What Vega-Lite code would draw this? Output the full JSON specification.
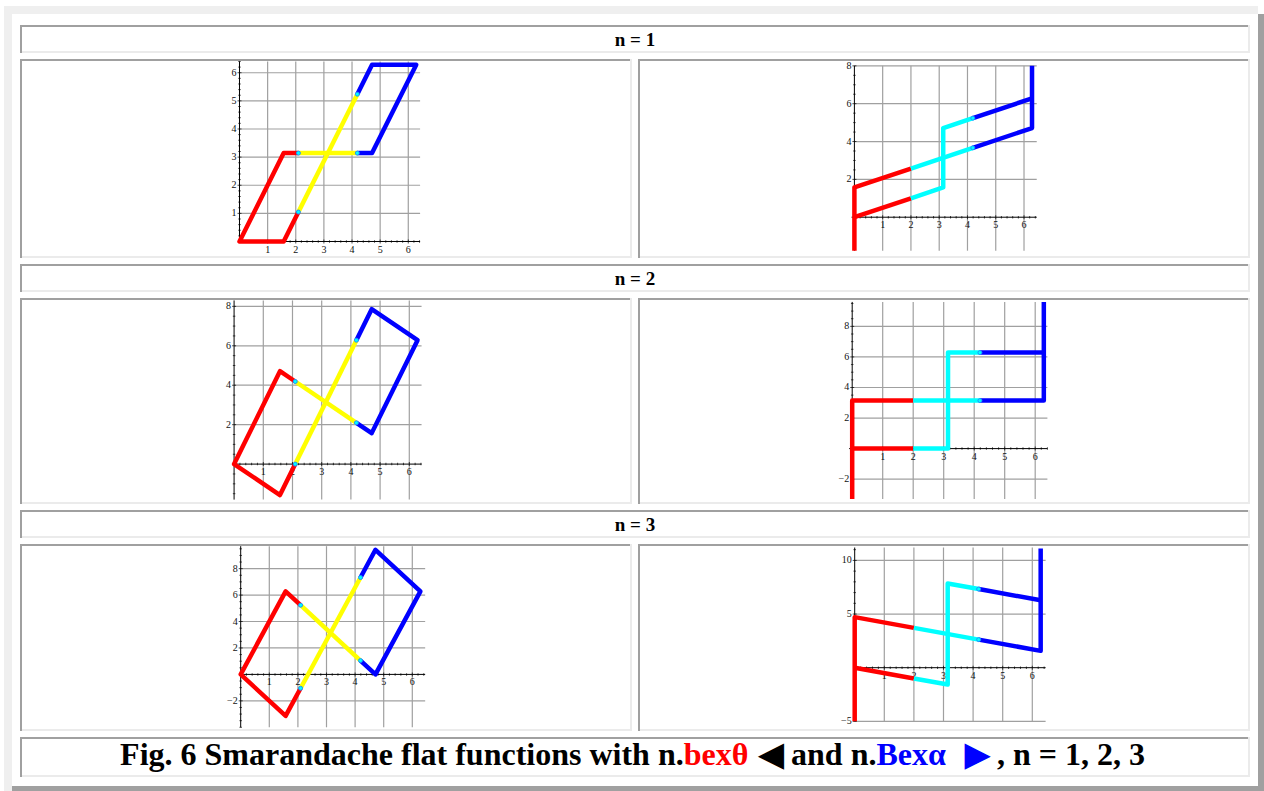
{
  "$schema": "https://vega.github.io/schema/vega-lite/v6.json",
  "background": "white",
  "padding": {"left": 4, "top": 6, "right": 0, "bottom": 0},
  "config": {
    "font": "Liberation Serif",
    "view": {"stroke": null},
    "axis": {"labels": false, "ticks": false, "grid": false, "domainColor": "#a0a0a0", "domainWidth": 2, "domainCap": "butt", "translate": 0, "offset": -1}
  },
  "datasets": {
    "xticks": [
      {"x": 1, "y": 0, "k": "M"}, {"x": 2, "y": 0, "k": "M"}, {"x": 3, "y": 0, "k": "M"}, {"x": 4, "y": 0, "k": "M"}, {"x": 5, "y": 0, "k": "M"}, {"x": 6, "y": 0, "k": "M"},
      {"x": 0.2, "y": 0, "k": "m"}, {"x": 0.4, "y": 0, "k": "m"}, {"x": 0.6, "y": 0, "k": "m"}, {"x": 0.8, "y": 0, "k": "m"},
      {"x": 1.2, "y": 0, "k": "m"}, {"x": 1.4, "y": 0, "k": "m"}, {"x": 1.6, "y": 0, "k": "m"}, {"x": 1.8, "y": 0, "k": "m"},
      {"x": 2.2, "y": 0, "k": "m"}, {"x": 2.4, "y": 0, "k": "m"}, {"x": 2.6, "y": 0, "k": "m"}, {"x": 2.8, "y": 0, "k": "m"},
      {"x": 3.2, "y": 0, "k": "m"}, {"x": 3.4, "y": 0, "k": "m"}, {"x": 3.6, "y": 0, "k": "m"}, {"x": 3.8, "y": 0, "k": "m"},
      {"x": 4.2, "y": 0, "k": "m"}, {"x": 4.4, "y": 0, "k": "m"}, {"x": 4.6, "y": 0, "k": "m"}, {"x": 4.8, "y": 0, "k": "m"},
      {"x": 5.2, "y": 0, "k": "m"}, {"x": 5.4, "y": 0, "k": "m"}, {"x": 5.6, "y": 0, "k": "m"}, {"x": 5.8, "y": 0, "k": "m"},
      {"x": 6.2, "y": 0, "k": "m"}, {"x": 6.4, "y": 0, "k": "m"}
    ],
    "xlabels": [
      {"x": 1, "y": 0, "t": "1"}, {"x": 2, "y": 0, "t": "2"}, {"x": 3, "y": 0, "t": "3"},
      {"x": 4, "y": 0, "t": "4"}, {"x": 5, "y": 0, "t": "5"}, {"x": 6, "y": 0, "t": "6"}
    ],
    "yticks": [
      {"p": "A", "x": 0, "y": 1, "k": "M"}, {"p": "A", "x": 0, "y": 2, "k": "M"}, {"p": "A", "x": 0, "y": 3, "k": "M"}, {"p": "A", "x": 0, "y": 4, "k": "M"}, {"p": "A", "x": 0, "y": 5, "k": "M"}, {"p": "A", "x": 0, "y": 6, "k": "M"},
      {"p": "A", "x": 0, "y": 0.2, "k": "m"}, {"p": "A", "x": 0, "y": 0.4, "k": "m"}, {"p": "A", "x": 0, "y": 0.6, "k": "m"}, {"p": "A", "x": 0, "y": 0.8, "k": "m"},
      {"p": "A", "x": 0, "y": 1.2, "k": "m"}, {"p": "A", "x": 0, "y": 1.4, "k": "m"}, {"p": "A", "x": 0, "y": 1.6, "k": "m"}, {"p": "A", "x": 0, "y": 1.8, "k": "m"},
      {"p": "A", "x": 0, "y": 2.2, "k": "m"}, {"p": "A", "x": 0, "y": 2.4, "k": "m"}, {"p": "A", "x": 0, "y": 2.6, "k": "m"}, {"p": "A", "x": 0, "y": 2.8, "k": "m"},
      {"p": "A", "x": 0, "y": 3.2, "k": "m"}, {"p": "A", "x": 0, "y": 3.4, "k": "m"}, {"p": "A", "x": 0, "y": 3.6, "k": "m"}, {"p": "A", "x": 0, "y": 3.8, "k": "m"},
      {"p": "A", "x": 0, "y": 4.2, "k": "m"}, {"p": "A", "x": 0, "y": 4.4, "k": "m"}, {"p": "A", "x": 0, "y": 4.6, "k": "m"}, {"p": "A", "x": 0, "y": 4.8, "k": "m"},
      {"p": "A", "x": 0, "y": 5.2, "k": "m"}, {"p": "A", "x": 0, "y": 5.4, "k": "m"}, {"p": "A", "x": 0, "y": 5.6, "k": "m"}, {"p": "A", "x": 0, "y": 5.8, "k": "m"},
      {"p": "A", "x": 0, "y": 6.2, "k": "m"}, {"p": "A", "x": 0, "y": 6.4, "k": "m"},

      {"p": "B", "x": 0, "y": 2, "k": "M"}, {"p": "B", "x": 0, "y": 4, "k": "M"}, {"p": "B", "x": 0, "y": 6, "k": "M"}, {"p": "B", "x": 0, "y": 8, "k": "M"},
      {"p": "B", "x": 0, "y": -1.5, "k": "m"}, {"p": "B", "x": 0, "y": -1, "k": "m"}, {"p": "B", "x": 0, "y": -0.5, "k": "m"}, {"p": "B", "x": 0, "y": 0.5, "k": "m"},
      {"p": "B", "x": 0, "y": 1, "k": "m"}, {"p": "B", "x": 0, "y": 1.5, "k": "m"}, {"p": "B", "x": 0, "y": 2.5, "k": "m"}, {"p": "B", "x": 0, "y": 3, "k": "m"},
      {"p": "B", "x": 0, "y": 3.5, "k": "m"}, {"p": "B", "x": 0, "y": 4.5, "k": "m"}, {"p": "B", "x": 0, "y": 5, "k": "m"}, {"p": "B", "x": 0, "y": 5.5, "k": "m"},
      {"p": "B", "x": 0, "y": 6.5, "k": "m"}, {"p": "B", "x": 0, "y": 7, "k": "m"}, {"p": "B", "x": 0, "y": 7.5, "k": "m"},

      {"p": "C", "x": 0, "y": 2, "k": "M"}, {"p": "C", "x": 0, "y": 4, "k": "M"}, {"p": "C", "x": 0, "y": 6, "k": "M"}, {"p": "C", "x": 0, "y": 8, "k": "M"},
      {"p": "C", "x": 0, "y": -1.5, "k": "m"}, {"p": "C", "x": 0, "y": -1, "k": "m"}, {"p": "C", "x": 0, "y": -0.5, "k": "m"}, {"p": "C", "x": 0, "y": 0.5, "k": "m"},
      {"p": "C", "x": 0, "y": 1, "k": "m"}, {"p": "C", "x": 0, "y": 1.5, "k": "m"}, {"p": "C", "x": 0, "y": 2.5, "k": "m"}, {"p": "C", "x": 0, "y": 3, "k": "m"},
      {"p": "C", "x": 0, "y": 3.5, "k": "m"}, {"p": "C", "x": 0, "y": 4.5, "k": "m"}, {"p": "C", "x": 0, "y": 5, "k": "m"}, {"p": "C", "x": 0, "y": 5.5, "k": "m"},
      {"p": "C", "x": 0, "y": 6.5, "k": "m"}, {"p": "C", "x": 0, "y": 7, "k": "m"}, {"p": "C", "x": 0, "y": 7.5, "k": "m"},

      {"p": "D", "x": 0, "y": -2, "k": "M"}, {"p": "D", "x": 0, "y": 2, "k": "M"}, {"p": "D", "x": 0, "y": 4, "k": "M"}, {"p": "D", "x": 0, "y": 6, "k": "M"}, {"p": "D", "x": 0, "y": 8, "k": "M"},
      {"p": "D", "x": 0, "y": -3, "k": "m"}, {"p": "D", "x": 0, "y": -2.5, "k": "m"}, {"p": "D", "x": 0, "y": -1.5, "k": "m"}, {"p": "D", "x": 0, "y": -1, "k": "m"},
      {"p": "D", "x": 0, "y": -0.5, "k": "m"}, {"p": "D", "x": 0, "y": 0.5, "k": "m"}, {"p": "D", "x": 0, "y": 1, "k": "m"}, {"p": "D", "x": 0, "y": 1.5, "k": "m"},
      {"p": "D", "x": 0, "y": 2.5, "k": "m"}, {"p": "D", "x": 0, "y": 3, "k": "m"}, {"p": "D", "x": 0, "y": 3.5, "k": "m"}, {"p": "D", "x": 0, "y": 4.5, "k": "m"},
      {"p": "D", "x": 0, "y": 5, "k": "m"}, {"p": "D", "x": 0, "y": 5.5, "k": "m"}, {"p": "D", "x": 0, "y": 6.5, "k": "m"}, {"p": "D", "x": 0, "y": 7, "k": "m"},
      {"p": "D", "x": 0, "y": 7.5, "k": "m"}, {"p": "D", "x": 0, "y": 8.5, "k": "m"}, {"p": "D", "x": 0, "y": 9, "k": "m"}, {"p": "D", "x": 0, "y": 9.5, "k": "m"},

      {"p": "E", "x": 0, "y": -2, "k": "M"}, {"p": "E", "x": 0, "y": 2, "k": "M"}, {"p": "E", "x": 0, "y": 4, "k": "M"}, {"p": "E", "x": 0, "y": 6, "k": "M"}, {"p": "E", "x": 0, "y": 8, "k": "M"},
      {"p": "E", "x": 0, "y": -4, "k": "m"}, {"p": "E", "x": 0, "y": -3.5, "k": "m"}, {"p": "E", "x": 0, "y": -3, "k": "m"}, {"p": "E", "x": 0, "y": -2.5, "k": "m"},
      {"p": "E", "x": 0, "y": -1.5, "k": "m"}, {"p": "E", "x": 0, "y": -1, "k": "m"}, {"p": "E", "x": 0, "y": -0.5, "k": "m"}, {"p": "E", "x": 0, "y": 0.5, "k": "m"},
      {"p": "E", "x": 0, "y": 1, "k": "m"}, {"p": "E", "x": 0, "y": 1.5, "k": "m"}, {"p": "E", "x": 0, "y": 2.5, "k": "m"}, {"p": "E", "x": 0, "y": 3, "k": "m"},
      {"p": "E", "x": 0, "y": 3.5, "k": "m"}, {"p": "E", "x": 0, "y": 4.5, "k": "m"}, {"p": "E", "x": 0, "y": 5, "k": "m"}, {"p": "E", "x": 0, "y": 5.5, "k": "m"},
      {"p": "E", "x": 0, "y": 6.5, "k": "m"}, {"p": "E", "x": 0, "y": 7, "k": "m"}, {"p": "E", "x": 0, "y": 7.5, "k": "m"}, {"p": "E", "x": 0, "y": 8.5, "k": "m"},
      {"p": "E", "x": 0, "y": 9, "k": "m"}, {"p": "E", "x": 0, "y": 9.5, "k": "m"},

      {"p": "F", "x": 0, "y": -5, "k": "M"}, {"p": "F", "x": 0, "y": 5, "k": "M"}, {"p": "F", "x": 0, "y": 10, "k": "M"},
      {"p": "F", "x": 0, "y": -4, "k": "m"}, {"p": "F", "x": 0, "y": -3, "k": "m"}, {"p": "F", "x": 0, "y": -2, "k": "m"}, {"p": "F", "x": 0, "y": -1, "k": "m"},
      {"p": "F", "x": 0, "y": 1, "k": "m"}, {"p": "F", "x": 0, "y": 2, "k": "m"}, {"p": "F", "x": 0, "y": 3, "k": "m"}, {"p": "F", "x": 0, "y": 4, "k": "m"},
      {"p": "F", "x": 0, "y": 6, "k": "m"}, {"p": "F", "x": 0, "y": 7, "k": "m"}, {"p": "F", "x": 0, "y": 8, "k": "m"}, {"p": "F", "x": 0, "y": 9, "k": "m"},
      {"p": "F", "x": 0, "y": 11, "k": "m"}
    ],
    "ylabels": [
      {"p": "A", "x": 0, "y": 1, "t": "1"}, {"p": "A", "x": 0, "y": 2, "t": "2"}, {"p": "A", "x": 0, "y": 3, "t": "3"},
      {"p": "A", "x": 0, "y": 4, "t": "4"}, {"p": "A", "x": 0, "y": 5, "t": "5"}, {"p": "A", "x": 0, "y": 6, "t": "6"},
      {"p": "B", "x": 0, "y": 2, "t": "2"}, {"p": "B", "x": 0, "y": 4, "t": "4"}, {"p": "B", "x": 0, "y": 6, "t": "6"}, {"p": "B", "x": 0, "y": 8, "t": "8"},
      {"p": "C", "x": 0, "y": 2, "t": "2"}, {"p": "C", "x": 0, "y": 4, "t": "4"}, {"p": "C", "x": 0, "y": 6, "t": "6"}, {"p": "C", "x": 0, "y": 8, "t": "8"},
      {"p": "D", "x": 0, "y": -2, "t": "−2"}, {"p": "D", "x": 0, "y": 2, "t": "2"}, {"p": "D", "x": 0, "y": 4, "t": "4"}, {"p": "D", "x": 0, "y": 6, "t": "6"}, {"p": "D", "x": 0, "y": 8, "t": "8"},
      {"p": "E", "x": 0, "y": -2, "t": "−2"}, {"p": "E", "x": 0, "y": 2, "t": "2"}, {"p": "E", "x": 0, "y": 4, "t": "4"}, {"p": "E", "x": 0, "y": 6, "t": "6"}, {"p": "E", "x": 0, "y": 8, "t": "8"},
      {"p": "F", "x": 0, "y": -5, "t": "−5"}, {"p": "F", "x": 0, "y": 5, "t": "5"}, {"p": "F", "x": 0, "y": 10, "t": "10"}
    ],
    "grid": [
      {"p": "A", "x": 1, "y": 0, "x2": 1, "y2": 6.4}, {"p": "A", "x": 2, "y": 0, "x2": 2, "y2": 6.4}, {"p": "A", "x": 3, "y": 0, "x2": 3, "y2": 6.4},
      {"p": "A", "x": 4, "y": 0, "x2": 4, "y2": 6.4}, {"p": "A", "x": 5, "y": 0, "x2": 5, "y2": 6.4}, {"p": "A", "x": 6, "y": 0, "x2": 6, "y2": 6.4},
      {"p": "A", "x": 0, "y": 1, "x2": 6.42, "y2": 1}, {"p": "A", "x": 0, "y": 2, "x2": 6.42, "y2": 2}, {"p": "A", "x": 0, "y": 3, "x2": 6.42, "y2": 3},
      {"p": "A", "x": 0, "y": 4, "x2": 6.42, "y2": 4}, {"p": "A", "x": 0, "y": 5, "x2": 6.42, "y2": 5}, {"p": "A", "x": 0, "y": 6, "x2": 6.42, "y2": 6},

      {"p": "B", "x": 1, "y": -1.77, "x2": 1, "y2": 8}, {"p": "B", "x": 2, "y": -1.77, "x2": 2, "y2": 8}, {"p": "B", "x": 3, "y": -1.77, "x2": 3, "y2": 8},
      {"p": "B", "x": 4, "y": -1.77, "x2": 4, "y2": 8}, {"p": "B", "x": 5, "y": -1.77, "x2": 5, "y2": 8}, {"p": "B", "x": 6, "y": -1.77, "x2": 6, "y2": 8},
      {"p": "B", "x": 0, "y": 2, "x2": 6.45, "y2": 2}, {"p": "B", "x": 0, "y": 4, "x2": 6.45, "y2": 4}, {"p": "B", "x": 0, "y": 6, "x2": 6.45, "y2": 6}, {"p": "B", "x": 0, "y": 8, "x2": 6.45, "y2": 8},

      {"p": "C", "x": 1, "y": -1.8, "x2": 1, "y2": 8.3}, {"p": "C", "x": 2, "y": -1.8, "x2": 2, "y2": 8.3}, {"p": "C", "x": 3, "y": -1.8, "x2": 3, "y2": 8.3},
      {"p": "C", "x": 4, "y": -1.8, "x2": 4, "y2": 8.3}, {"p": "C", "x": 5, "y": -1.8, "x2": 5, "y2": 8.3}, {"p": "C", "x": 6, "y": -1.8, "x2": 6, "y2": 8.3},
      {"p": "C", "x": 0, "y": 2, "x2": 6.42, "y2": 2}, {"p": "C", "x": 0, "y": 4, "x2": 6.42, "y2": 4}, {"p": "C", "x": 0, "y": 6, "x2": 6.42, "y2": 6}, {"p": "C", "x": 0, "y": 8, "x2": 6.42, "y2": 8},

      {"p": "D", "x": 1, "y": -3.3, "x2": 1, "y2": 9.6}, {"p": "D", "x": 2, "y": -3.3, "x2": 2, "y2": 9.6}, {"p": "D", "x": 3, "y": -3.3, "x2": 3, "y2": 9.6},
      {"p": "D", "x": 4, "y": -3.3, "x2": 4, "y2": 9.6}, {"p": "D", "x": 5, "y": -3.3, "x2": 5, "y2": 9.6}, {"p": "D", "x": 6, "y": -3.3, "x2": 6, "y2": 9.6},
      {"p": "D", "x": 0, "y": -2, "x2": 6.4, "y2": -2}, {"p": "D", "x": 0, "y": 2, "x2": 6.4, "y2": 2}, {"p": "D", "x": 0, "y": 4, "x2": 6.4, "y2": 4},
      {"p": "D", "x": 0, "y": 6, "x2": 6.4, "y2": 6}, {"p": "D", "x": 0, "y": 8, "x2": 6.4, "y2": 8},

      {"p": "E", "x": 1, "y": -4, "x2": 1, "y2": 9.7}, {"p": "E", "x": 2, "y": -4, "x2": 2, "y2": 9.7}, {"p": "E", "x": 3, "y": -4, "x2": 3, "y2": 9.7},
      {"p": "E", "x": 4, "y": -4, "x2": 4, "y2": 9.7}, {"p": "E", "x": 5, "y": -4, "x2": 5, "y2": 9.7}, {"p": "E", "x": 6, "y": -4, "x2": 6, "y2": 9.7},
      {"p": "E", "x": 0, "y": -2, "x2": 6.45, "y2": -2}, {"p": "E", "x": 0, "y": 2, "x2": 6.45, "y2": 2}, {"p": "E", "x": 0, "y": 4, "x2": 6.45, "y2": 4},
      {"p": "E", "x": 0, "y": 6, "x2": 6.45, "y2": 6}, {"p": "E", "x": 0, "y": 8, "x2": 6.45, "y2": 8},

      {"p": "F", "x": 1, "y": -5, "x2": 1, "y2": 11.2}, {"p": "F", "x": 2, "y": -5, "x2": 2, "y2": 11.2}, {"p": "F", "x": 3, "y": -5, "x2": 3, "y2": 11.2},
      {"p": "F", "x": 4, "y": -5, "x2": 4, "y2": 11.2}, {"p": "F", "x": 5, "y": -5, "x2": 5, "y2": 11.2}, {"p": "F", "x": 6, "y": -5, "x2": 6, "y2": 11.2},
      {"p": "F", "x": 0, "y": -5, "x2": 6.45, "y2": -5}, {"p": "F", "x": 0, "y": 5, "x2": 6.45, "y2": 5}, {"p": "F", "x": 0, "y": 10, "x2": 6.45, "y2": 10}
    ],
    "axes": [
      {"p": "A", "x": -0.05, "y": 0, "x2": 6.42, "y2": 0}, {"p": "A", "x": 0, "y": -0.05, "x2": 0, "y2": 6.4},
      {"p": "B", "x": -0.1, "y": 0, "x2": 6.45, "y2": 0}, {"p": "B", "x": 0, "y": -1.77, "x2": 0, "y2": 8},
      {"p": "C", "x": -0.05, "y": 0, "x2": 6.42, "y2": 0}, {"p": "C", "x": 0, "y": -1.8, "x2": 0, "y2": 8.3},
      {"p": "D", "x": -0.1, "y": 0, "x2": 6.4, "y2": 0}, {"p": "D", "x": 0, "y": -3.3, "x2": 0, "y2": 9.6},
      {"p": "E", "x": -0.05, "y": 0, "x2": 6.45, "y2": 0}, {"p": "E", "x": 0, "y": -4, "x2": 0, "y2": 9.7},
      {"p": "F", "x": -0.05, "y": 0, "x2": 6.45, "y2": 0}, {"p": "F", "x": 0, "y": -5, "x2": 0, "y2": 11.2}
    ],
    "paths": [
      {"p": "A", "s": "A1", "c": "red", "o": 0, "x": 2.094, "y": 3.142},
      {"p": "A", "s": "A1", "c": "red", "o": 1, "x": 1.571, "y": 3.142},
      {"p": "A", "s": "A1", "c": "red", "o": 2, "x": 0, "y": 0},
      {"p": "A", "s": "A1", "c": "red", "o": 3, "x": 1.571, "y": 0},
      {"p": "A", "s": "A1", "c": "red", "o": 4, "x": 2.094, "y": 1.047},
      {"p": "A", "s": "A2", "c": "yellow", "o": 0, "x": 2.094, "y": 3.142},
      {"p": "A", "s": "A2", "c": "yellow", "o": 1, "x": 4.189, "y": 3.142},
      {"p": "A", "s": "A3", "c": "yellow", "o": 0, "x": 2.094, "y": 1.047},
      {"p": "A", "s": "A3", "c": "yellow", "o": 1, "x": 4.189, "y": 5.236},
      {"p": "A", "s": "A4", "c": "blue", "o": 0, "x": 4.189, "y": 3.142},
      {"p": "A", "s": "A4", "c": "blue", "o": 1, "x": 4.712, "y": 3.142},
      {"p": "A", "s": "A4", "c": "blue", "o": 2, "x": 6.283, "y": 6.283},
      {"p": "A", "s": "A4", "c": "blue", "o": 3, "x": 4.712, "y": 6.283},
      {"p": "A", "s": "A4", "c": "blue", "o": 4, "x": 4.189, "y": 5.236},

      {"p": "B", "s": "B1", "c": "red", "o": 0, "x": 0, "y": -1.77},
      {"p": "B", "s": "B1", "c": "red", "o": 1, "x": 0, "y": 1.571},
      {"p": "B", "s": "B1", "c": "red", "o": 2, "x": 2, "y": 2.571},
      {"p": "B", "s": "B2", "c": "red", "o": 0, "x": 0, "y": 0},
      {"p": "B", "s": "B2", "c": "red", "o": 1, "x": 2, "y": 1},
      {"p": "B", "s": "B3", "c": "cyan", "o": 0, "x": 2, "y": 2.571},
      {"p": "B", "s": "B3", "c": "cyan", "o": 1, "x": 4.189, "y": 3.665},
      {"p": "B", "s": "B4", "c": "cyan", "o": 0, "x": 2, "y": 1},
      {"p": "B", "s": "B4", "c": "cyan", "o": 1, "x": 3.142, "y": 1.571},
      {"p": "B", "s": "B4", "c": "cyan", "o": 2, "x": 3.142, "y": 4.712},
      {"p": "B", "s": "B4", "c": "cyan", "o": 3, "x": 4.189, "y": 5.236},
      {"p": "B", "s": "B5", "c": "blue", "o": 0, "x": 4.189, "y": 3.665},
      {"p": "B", "s": "B5", "c": "blue", "o": 1, "x": 6.283, "y": 4.712},
      {"p": "B", "s": "B5", "c": "blue", "o": 2, "x": 6.283, "y": 8},
      {"p": "B", "s": "B6", "c": "blue", "o": 0, "x": 4.189, "y": 5.236},
      {"p": "B", "s": "B6", "c": "blue", "o": 1, "x": 6.283, "y": 6.283},

      {"p": "C", "s": "C1", "c": "red", "o": 0, "x": 2.094, "y": 4.189},
      {"p": "C", "s": "C1", "c": "red", "o": 1, "x": 1.571, "y": 4.712},
      {"p": "C", "s": "C1", "c": "red", "o": 2, "x": 0, "y": 0},
      {"p": "C", "s": "C1", "c": "red", "o": 3, "x": 1.571, "y": -1.571},
      {"p": "C", "s": "C1", "c": "red", "o": 4, "x": 2.094, "y": 0},
      {"p": "C", "s": "C2", "c": "yellow", "o": 0, "x": 2.094, "y": 4.189},
      {"p": "C", "s": "C2", "c": "yellow", "o": 1, "x": 4.189, "y": 2.094},
      {"p": "C", "s": "C3", "c": "yellow", "o": 0, "x": 2.094, "y": 0},
      {"p": "C", "s": "C3", "c": "yellow", "o": 1, "x": 4.189, "y": 6.283},
      {"p": "C", "s": "C4", "c": "blue", "o": 0, "x": 4.189, "y": 2.094},
      {"p": "C", "s": "C4", "c": "blue", "o": 1, "x": 4.712, "y": 1.571},
      {"p": "C", "s": "C4", "c": "blue", "o": 2, "x": 6.283, "y": 6.283},
      {"p": "C", "s": "C4", "c": "blue", "o": 3, "x": 4.712, "y": 7.854},
      {"p": "C", "s": "C4", "c": "blue", "o": 4, "x": 4.189, "y": 6.283},

      {"p": "D", "s": "D1", "c": "red", "o": 0, "x": 0, "y": -3.3},
      {"p": "D", "s": "D1", "c": "red", "o": 1, "x": 0, "y": 3.142},
      {"p": "D", "s": "D1", "c": "red", "o": 2, "x": 2, "y": 3.142},
      {"p": "D", "s": "D2", "c": "red", "o": 0, "x": 0, "y": 0},
      {"p": "D", "s": "D2", "c": "red", "o": 1, "x": 2, "y": 0},
      {"p": "D", "s": "D3", "c": "cyan", "o": 0, "x": 2, "y": 3.142},
      {"p": "D", "s": "D3", "c": "cyan", "o": 1, "x": 4.189, "y": 3.142},
      {"p": "D", "s": "D4", "c": "cyan", "o": 0, "x": 2, "y": 0},
      {"p": "D", "s": "D4", "c": "cyan", "o": 1, "x": 3.142, "y": 0},
      {"p": "D", "s": "D4", "c": "cyan", "o": 2, "x": 3.142, "y": 6.283},
      {"p": "D", "s": "D4", "c": "cyan", "o": 3, "x": 4.189, "y": 6.283},
      {"p": "D", "s": "D5", "c": "blue", "o": 0, "x": 4.189, "y": 3.142},
      {"p": "D", "s": "D5", "c": "blue", "o": 1, "x": 6.283, "y": 3.142},
      {"p": "D", "s": "D5", "c": "blue", "o": 2, "x": 6.283, "y": 9.6},
      {"p": "D", "s": "D6", "c": "blue", "o": 0, "x": 4.189, "y": 6.283},
      {"p": "D", "s": "D6", "c": "blue", "o": 1, "x": 6.283, "y": 6.283},

      {"p": "E", "s": "E1", "c": "red", "o": 0, "x": 2.094, "y": 5.236},
      {"p": "E", "s": "E1", "c": "red", "o": 1, "x": 1.571, "y": 6.283},
      {"p": "E", "s": "E1", "c": "red", "o": 2, "x": 0, "y": 0},
      {"p": "E", "s": "E1", "c": "red", "o": 3, "x": 1.571, "y": -3.142},
      {"p": "E", "s": "E1", "c": "red", "o": 4, "x": 2.094, "y": -1.047},
      {"p": "E", "s": "E2", "c": "yellow", "o": 0, "x": 2.094, "y": 5.236},
      {"p": "E", "s": "E2", "c": "yellow", "o": 1, "x": 4.189, "y": 1.047},
      {"p": "E", "s": "E3", "c": "yellow", "o": 0, "x": 2.094, "y": -1.047},
      {"p": "E", "s": "E3", "c": "yellow", "o": 1, "x": 4.189, "y": 7.33},
      {"p": "E", "s": "E4", "c": "blue", "o": 0, "x": 4.189, "y": 1.047},
      {"p": "E", "s": "E4", "c": "blue", "o": 1, "x": 4.712, "y": 0},
      {"p": "E", "s": "E4", "c": "blue", "o": 2, "x": 6.283, "y": 6.283},
      {"p": "E", "s": "E4", "c": "blue", "o": 3, "x": 4.712, "y": 9.425},
      {"p": "E", "s": "E4", "c": "blue", "o": 4, "x": 4.189, "y": 7.33},

      {"p": "F", "s": "F1", "c": "red", "o": 0, "x": 0, "y": -5},
      {"p": "F", "s": "F1", "c": "red", "o": 1, "x": 0, "y": 4.712},
      {"p": "F", "s": "F1", "c": "red", "o": 2, "x": 2, "y": 3.712},
      {"p": "F", "s": "F2", "c": "red", "o": 0, "x": 0, "y": 0},
      {"p": "F", "s": "F2", "c": "red", "o": 1, "x": 2, "y": -1},
      {"p": "F", "s": "F3", "c": "cyan", "o": 0, "x": 2, "y": 3.712},
      {"p": "F", "s": "F3", "c": "cyan", "o": 1, "x": 4.189, "y": 2.618},
      {"p": "F", "s": "F4", "c": "cyan", "o": 0, "x": 2, "y": -1},
      {"p": "F", "s": "F4", "c": "cyan", "o": 1, "x": 3.142, "y": -1.571},
      {"p": "F", "s": "F4", "c": "cyan", "o": 2, "x": 3.142, "y": 7.854},
      {"p": "F", "s": "F4", "c": "cyan", "o": 3, "x": 4.189, "y": 7.33},
      {"p": "F", "s": "F5", "c": "blue", "o": 0, "x": 4.189, "y": 2.618},
      {"p": "F", "s": "F5", "c": "blue", "o": 1, "x": 6.283, "y": 1.571},
      {"p": "F", "s": "F5", "c": "blue", "o": 2, "x": 6.283, "y": 11.1},
      {"p": "F", "s": "F6", "c": "blue", "o": 0, "x": 4.189, "y": 7.33},
      {"p": "F", "s": "F6", "c": "blue", "o": 1, "x": 6.283, "y": 6.283}
    ],
    "dots": [
      {"p": "A", "x": 2.094, "y": 1.047}, {"p": "A", "x": 2.094, "y": 3.142}, {"p": "A", "x": 4.189, "y": 3.142}, {"p": "A", "x": 4.189, "y": 5.236},
      {"p": "B", "x": 4.189, "y": 3.665}, {"p": "B", "x": 4.189, "y": 5.236},
      {"p": "C", "x": 2.094, "y": 4.189}, {"p": "C", "x": 2.094, "y": 0}, {"p": "C", "x": 4.189, "y": 2.094}, {"p": "C", "x": 4.189, "y": 6.283},
      {"p": "D", "x": 4.189, "y": 3.142}, {"p": "D", "x": 4.189, "y": 6.283},
      {"p": "E", "x": 2.094, "y": 5.236}, {"p": "E", "x": 2.094, "y": -1.047}, {"p": "E", "x": 4.189, "y": 1.047}, {"p": "E", "x": 4.189, "y": 7.33},
      {"p": "F", "x": 4.189, "y": 2.618}, {"p": "F", "x": 4.189, "y": 7.33}
    ]
  },
  "spacing": 0,
  "vconcat": [
    {"width": 1254, "height": 8, "view": {"fill": "#efefef", "stroke": null}, "data": {"values": [{}]}, "mark": {"type": "point", "opacity": 0, "size": 1}},
    {
      "spacing": 8,
      "hconcat": [
        {"width": 8, "height": 772, "view": {"fill": "#efefef", "stroke": null}, "data": {"values": [{}]}, "mark": {"type": "point", "opacity": 0, "size": 1}},
        {
          "spacing": 6,
          "vconcat": [
            {"width": 1230, "height": 5, "data": {"values": [{}]}, "mark": {"type": "point", "opacity": 0, "size": 1}},
            {
              "width": 1230, "height": 28,
              "resolve": {"axis": {"x": "independent", "y": "independent"}},
              "layer": [
                {
                  "data": {"values": [{"t": "n = 1"}]},
                  "mark": {"type": "text", "fontSize": 19, "fontWeight": "bold", "baseline": "alphabetic", "dy": 7, "color": "#000000"},
                  "encoding": {
                    "text": {"field": "t"},
                    "x": {"datum": 0.5, "type": "quantitative", "scale": {"domain": [0, 1], "nice": false}, "axis": {"orient": "top", "title": null}},
                    "y": {"datum": 0.5, "type": "quantitative", "scale": {"domain": [0, 1], "nice": false}, "axis": {"orient": "left", "title": null}}
                  }
                },
                {"data": {"values": [{}]}, "mark": {"type": "point", "opacity": 0, "size": 1}, "encoding": {"x": {"datum": 0.5, "type": "quantitative", "axis": {"orient": "bottom", "title": null, "domainColor": "#ebebeb"}}, "y": {"datum": 0.5, "type": "quantitative", "axis": {"orient": "right", "title": null, "domainColor": "#ebebeb"}}}}
              ]
            },
            {
              "spacing": 6,
              "hconcat": [
                {
                  "width": 612, "height": 199,
                  "resolve": {"axis": {"x": "independent", "y": "independent"}},
                  "layer": [
                    {
                      "encoding": {
                        "x": {"field": "x", "type": "quantitative", "scale": {"domain": [-7.803, 13.953], "nice": false, "zero": false}, "axis": {"orient": "top", "title": null}},
                        "y": {"field": "y", "type": "quantitative", "scale": {"domain": [-0.587, 6.488], "nice": false, "zero": false}, "axis": {"orient": "left", "title": null}}
                      },
                      "layer": [
                        {"data": {"name": "grid"}, "transform": [{"filter": "datum.p === 'A'"}], "mark": {"type": "rule", "color": "#a0a0a0", "strokeWidth": 1.2}, "encoding": {"x2": {"field": "x2"}, "y2": {"field": "y2"}}},
                        {"data": {"name": "axes"}, "transform": [{"filter": "datum.p === 'A'"}], "mark": {"type": "rule", "color": "#000000", "strokeWidth": 1}, "encoding": {"x2": {"field": "x2"}, "y2": {"field": "y2"}}},
                        {"data": {"name": "xticks"}, "mark": {"type": "tick", "orient": "vertical", "thickness": 1, "color": "#000000"}, "encoding": {"size": {"field": "k", "type": "ordinal", "scale": {"domain": ["M", "m"], "range": [4, 2.5]}, "legend": null}}},
                        {"data": {"name": "yticks"}, "transform": [{"filter": "datum.p === 'A'"}], "mark": {"type": "tick", "orient": "horizontal", "thickness": 1, "color": "#000000"}, "encoding": {"size": {"field": "k", "type": "ordinal", "scale": {"domain": ["M", "m"], "range": [4, 2.5]}, "legend": null}}},
                        {"data": {"name": "xlabels"}, "mark": {"type": "text", "fontSize": 10, "dy": 9, "color": "#111111"}, "encoding": {"text": {"field": "t"}}},
                        {"data": {"name": "ylabels"}, "transform": [{"filter": "datum.p === 'A'"}], "mark": {"type": "text", "fontSize": 10, "dx": -3, "align": "right", "color": "#111111"}, "encoding": {"text": {"field": "t"}}},
                        {"data": {"name": "paths"}, "transform": [{"filter": "datum.p === 'A'"}], "mark": {"type": "line", "strokeWidth": 4.5, "strokeJoin": "round"}, "encoding": {"detail": {"field": "s", "type": "nominal"}, "order": {"field": "o", "type": "quantitative"}, "color": {"field": "c", "type": "nominal", "scale": {"domain": ["red", "yellow", "cyan", "blue"], "range": ["#ff0000", "#ffff00", "#00ffff", "#0000ff"]}, "legend": null}}},
                        {"data": {"name": "dots"}, "transform": [{"filter": "datum.p === 'A'"}], "mark": {"type": "point", "filled": true, "size": 16, "fill": "#00ffff", "stroke": "#1e90ff", "strokeWidth": 1, "opacity": 1}}
                      ]
                    },
                    {"data": {"values": [{}]}, "mark": {"type": "point", "opacity": 0, "size": 1}, "encoding": {"x": {"datum": 3, "type": "quantitative", "axis": {"orient": "bottom", "title": null, "domainColor": "#ebebeb"}}, "y": {"datum": 3, "type": "quantitative", "axis": {"orient": "right", "title": null, "domainColor": "#ebebeb"}}}}
                  ]
                },
                {
                  "width": 612, "height": 199,
                  "resolve": {"axis": {"x": "independent", "y": "independent"}},
                  "layer": [
                    {
                      "encoding": {
                        "x": {"field": "x", "type": "quantitative", "scale": {"domain": [-7.655, 13.994], "nice": false, "zero": false}, "axis": {"orient": "top", "title": null}},
                        "y": {"field": "y", "type": "quantitative", "scale": {"domain": [-2.156, 8.362], "nice": false, "zero": false}, "axis": {"orient": "left", "title": null}}
                      },
                      "layer": [
                        {"data": {"name": "grid"}, "transform": [{"filter": "datum.p === 'B'"}], "mark": {"type": "rule", "color": "#a0a0a0", "strokeWidth": 1.2}, "encoding": {"x2": {"field": "x2"}, "y2": {"field": "y2"}}},
                        {"data": {"name": "axes"}, "transform": [{"filter": "datum.p === 'B'"}], "mark": {"type": "rule", "color": "#000000", "strokeWidth": 1}, "encoding": {"x2": {"field": "x2"}, "y2": {"field": "y2"}}},
                        {"data": {"name": "xticks"}, "mark": {"type": "tick", "orient": "vertical", "thickness": 1, "color": "#000000"}, "encoding": {"size": {"field": "k", "type": "ordinal", "scale": {"domain": ["M", "m"], "range": [4, 2.5]}, "legend": null}}},
                        {"data": {"name": "yticks"}, "transform": [{"filter": "datum.p === 'B'"}], "mark": {"type": "tick", "orient": "horizontal", "thickness": 1, "color": "#000000"}, "encoding": {"size": {"field": "k", "type": "ordinal", "scale": {"domain": ["M", "m"], "range": [4, 2.5]}, "legend": null}}},
                        {"data": {"name": "xlabels"}, "mark": {"type": "text", "fontSize": 10, "dy": 8, "color": "#111111"}, "encoding": {"text": {"field": "t"}}},
                        {"data": {"name": "ylabels"}, "transform": [{"filter": "datum.p === 'B'"}], "mark": {"type": "text", "fontSize": 10, "dx": -3, "align": "right", "color": "#111111"}, "encoding": {"text": {"field": "t"}}},
                        {"data": {"name": "paths"}, "transform": [{"filter": "datum.p === 'B'"}], "mark": {"type": "line", "strokeWidth": 4.5, "strokeJoin": "round"}, "encoding": {"detail": {"field": "s", "type": "nominal"}, "order": {"field": "o", "type": "quantitative"}, "color": {"field": "c", "type": "nominal", "scale": {"domain": ["red", "yellow", "cyan", "blue"], "range": ["#ff0000", "#ffff00", "#00ffff", "#0000ff"]}, "legend": null}}},
                        {"data": {"name": "dots"}, "transform": [{"filter": "datum.p === 'B'"}], "mark": {"type": "point", "filled": true, "size": 16, "fill": "#00ffff", "stroke": "#1e90ff", "strokeWidth": 1, "opacity": 1}}
                      ]
                    },
                    {"data": {"values": [{}]}, "mark": {"type": "point", "opacity": 0, "size": 1}, "encoding": {"x": {"datum": 3, "type": "quantitative", "axis": {"orient": "bottom", "title": null, "domainColor": "#ebebeb"}}, "y": {"datum": 3, "type": "quantitative", "axis": {"orient": "right", "title": null, "domainColor": "#ebebeb"}}}}
                  ]
                }
              ]
            },
            {
              "width": 1230, "height": 28,
              "resolve": {"axis": {"x": "independent", "y": "independent"}},
              "layer": [
                {
                  "data": {"values": [{"t": "n = 2"}]},
                  "mark": {"type": "text", "fontSize": 19, "fontWeight": "bold", "baseline": "alphabetic", "dy": 7, "color": "#000000"},
                  "encoding": {
                    "text": {"field": "t"},
                    "x": {"datum": 0.5, "type": "quantitative", "scale": {"domain": [0, 1], "nice": false}, "axis": {"orient": "top", "title": null}},
                    "y": {"datum": 0.5, "type": "quantitative", "scale": {"domain": [0, 1], "nice": false}, "axis": {"orient": "left", "title": null}}
                  }
                },
                {"data": {"values": [{}]}, "mark": {"type": "point", "opacity": 0, "size": 1}, "encoding": {"x": {"datum": 0.5, "type": "quantitative", "axis": {"orient": "bottom", "title": null, "domainColor": "#ebebeb"}}, "y": {"datum": 0.5, "type": "quantitative", "axis": {"orient": "right", "title": null, "domainColor": "#ebebeb"}}}}
              ]
            },
            {
              "spacing": 6,
              "hconcat": [
                {
                  "width": 612, "height": 206,
                  "resolve": {"axis": {"x": "independent", "y": "independent"}},
                  "layer": [
                    {
                      "encoding": {
                        "x": {"field": "x", "type": "quantitative", "scale": {"domain": [-7.332, 13.627], "nice": false, "zero": false}, "axis": {"orient": "top", "title": null}},
                        "y": {"field": "y", "type": "quantitative", "scale": {"domain": [-2.023, 8.423], "nice": false, "zero": false}, "axis": {"orient": "left", "title": null}}
                      },
                      "layer": [
                        {"data": {"name": "grid"}, "transform": [{"filter": "datum.p === 'C'"}], "mark": {"type": "rule", "color": "#a0a0a0", "strokeWidth": 1.2}, "encoding": {"x2": {"field": "x2"}, "y2": {"field": "y2"}}},
                        {"data": {"name": "axes"}, "transform": [{"filter": "datum.p === 'C'"}], "mark": {"type": "rule", "color": "#000000", "strokeWidth": 1}, "encoding": {"x2": {"field": "x2"}, "y2": {"field": "y2"}}},
                        {"data": {"name": "xticks"}, "mark": {"type": "tick", "orient": "vertical", "thickness": 1, "color": "#000000"}, "encoding": {"size": {"field": "k", "type": "ordinal", "scale": {"domain": ["M", "m"], "range": [4, 2.5]}, "legend": null}}},
                        {"data": {"name": "yticks"}, "transform": [{"filter": "datum.p === 'C'"}], "mark": {"type": "tick", "orient": "horizontal", "thickness": 1, "color": "#000000"}, "encoding": {"size": {"field": "k", "type": "ordinal", "scale": {"domain": ["M", "m"], "range": [4, 2.5]}, "legend": null}}},
                        {"data": {"name": "xlabels"}, "mark": {"type": "text", "fontSize": 10, "dy": 8, "color": "#111111"}, "encoding": {"text": {"field": "t"}}},
                        {"data": {"name": "ylabels"}, "transform": [{"filter": "datum.p === 'C'"}], "mark": {"type": "text", "fontSize": 10, "dx": -3, "align": "right", "color": "#111111"}, "encoding": {"text": {"field": "t"}}},
                        {"data": {"name": "paths"}, "transform": [{"filter": "datum.p === 'C'"}], "mark": {"type": "line", "strokeWidth": 4.5, "strokeJoin": "round"}, "encoding": {"detail": {"field": "s", "type": "nominal"}, "order": {"field": "o", "type": "quantitative"}, "color": {"field": "c", "type": "nominal", "scale": {"domain": ["red", "yellow", "cyan", "blue"], "range": ["#ff0000", "#ffff00", "#00ffff", "#0000ff"]}, "legend": null}}},
                        {"data": {"name": "dots"}, "transform": [{"filter": "datum.p === 'C'"}], "mark": {"type": "point", "filled": true, "size": 16, "fill": "#00ffff", "stroke": "#1e90ff", "strokeWidth": 1, "opacity": 1}}
                      ]
                    },
                    {"data": {"values": [{}]}, "mark": {"type": "point", "opacity": 0, "size": 1}, "encoding": {"x": {"datum": 3, "type": "quantitative", "axis": {"orient": "bottom", "title": null, "domainColor": "#ebebeb"}}, "y": {"datum": 3, "type": "quantitative", "axis": {"orient": "right", "title": null, "domainColor": "#ebebeb"}}}}
                  ]
                },
                {
                  "width": 612, "height": 206,
                  "resolve": {"axis": {"x": "independent", "y": "independent"}},
                  "layer": [
                    {
                      "encoding": {
                        "x": {"field": "x", "type": "quantitative", "scale": {"domain": [-7.023, 13.043], "nice": false, "zero": false}, "axis": {"orient": "top", "title": null}},
                        "y": {"field": "y", "type": "quantitative", "scale": {"domain": [-3.626, 9.856], "nice": false, "zero": false}, "axis": {"orient": "left", "title": null}}
                      },
                      "layer": [
                        {"data": {"name": "grid"}, "transform": [{"filter": "datum.p === 'D'"}], "mark": {"type": "rule", "color": "#a0a0a0", "strokeWidth": 1.2}, "encoding": {"x2": {"field": "x2"}, "y2": {"field": "y2"}}},
                        {"data": {"name": "axes"}, "transform": [{"filter": "datum.p === 'D'"}], "mark": {"type": "rule", "color": "#000000", "strokeWidth": 1}, "encoding": {"x2": {"field": "x2"}, "y2": {"field": "y2"}}},
                        {"data": {"name": "xticks"}, "mark": {"type": "tick", "orient": "vertical", "thickness": 1, "color": "#000000"}, "encoding": {"size": {"field": "k", "type": "ordinal", "scale": {"domain": ["M", "m"], "range": [4, 2.5]}, "legend": null}}},
                        {"data": {"name": "yticks"}, "transform": [{"filter": "datum.p === 'D'"}], "mark": {"type": "tick", "orient": "horizontal", "thickness": 1, "color": "#000000"}, "encoding": {"size": {"field": "k", "type": "ordinal", "scale": {"domain": ["M", "m"], "range": [4, 2.5]}, "legend": null}}},
                        {"data": {"name": "xlabels"}, "mark": {"type": "text", "fontSize": 10, "dy": 8, "color": "#111111"}, "encoding": {"text": {"field": "t"}}},
                        {"data": {"name": "ylabels"}, "transform": [{"filter": "datum.p === 'D'"}], "mark": {"type": "text", "fontSize": 10, "dx": -3, "align": "right", "color": "#111111"}, "encoding": {"text": {"field": "t"}}},
                        {"data": {"name": "paths"}, "transform": [{"filter": "datum.p === 'D'"}], "mark": {"type": "line", "strokeWidth": 4.5, "strokeJoin": "round"}, "encoding": {"detail": {"field": "s", "type": "nominal"}, "order": {"field": "o", "type": "quantitative"}, "color": {"field": "c", "type": "nominal", "scale": {"domain": ["red", "yellow", "cyan", "blue"], "range": ["#ff0000", "#ffff00", "#00ffff", "#0000ff"]}, "legend": null}}},
                        {"data": {"name": "dots"}, "transform": [{"filter": "datum.p === 'D'"}], "mark": {"type": "point", "filled": true, "size": 16, "fill": "#00ffff", "stroke": "#1e90ff", "strokeWidth": 1, "opacity": 1}}
                      ]
                    },
                    {"data": {"values": [{}]}, "mark": {"type": "point", "opacity": 0, "size": 1}, "encoding": {"x": {"datum": 3, "type": "quantitative", "axis": {"orient": "bottom", "title": null, "domainColor": "#ebebeb"}}, "y": {"datum": 3, "type": "quantitative", "axis": {"orient": "right", "title": null, "domainColor": "#ebebeb"}}}}
                  ]
                }
              ]
            },
            {
              "width": 1230, "height": 28,
              "resolve": {"axis": {"x": "independent", "y": "independent"}},
              "layer": [
                {
                  "data": {"values": [{"t": "n = 3"}]},
                  "mark": {"type": "text", "fontSize": 19, "fontWeight": "bold", "baseline": "alphabetic", "dy": 7, "color": "#000000"},
                  "encoding": {
                    "text": {"field": "t"},
                    "x": {"datum": 0.5, "type": "quantitative", "scale": {"domain": [0, 1], "nice": false}, "axis": {"orient": "top", "title": null}},
                    "y": {"datum": 0.5, "type": "quantitative", "scale": {"domain": [0, 1], "nice": false}, "axis": {"orient": "left", "title": null}}
                  }
                },
                {"data": {"values": [{}]}, "mark": {"type": "point", "opacity": 0, "size": 1}, "encoding": {"x": {"datum": 0.5, "type": "quantitative", "axis": {"orient": "bottom", "title": null, "domainColor": "#ebebeb"}}, "y": {"datum": 0.5, "type": "quantitative", "axis": {"orient": "right", "title": null, "domainColor": "#ebebeb"}}}}
              ]
            },
            {
              "spacing": 6,
              "hconcat": [
                {
                  "width": 612, "height": 187,
                  "resolve": {"axis": {"x": "independent", "y": "independent"}},
                  "layer": [
                    {
                      "encoding": {
                        "x": {"field": "x", "type": "quantitative", "scale": {"domain": [-7.717, 13.682], "nice": false, "zero": false}, "axis": {"orient": "top", "title": null}},
                        "y": {"field": "y", "type": "quantitative", "scale": {"domain": [-4.281, 9.864], "nice": false, "zero": false}, "axis": {"orient": "left", "title": null}}
                      },
                      "layer": [
                        {"data": {"name": "grid"}, "transform": [{"filter": "datum.p === 'E'"}], "mark": {"type": "rule", "color": "#a0a0a0", "strokeWidth": 1.2}, "encoding": {"x2": {"field": "x2"}, "y2": {"field": "y2"}}},
                        {"data": {"name": "axes"}, "transform": [{"filter": "datum.p === 'E'"}], "mark": {"type": "rule", "color": "#000000", "strokeWidth": 1}, "encoding": {"x2": {"field": "x2"}, "y2": {"field": "y2"}}},
                        {"data": {"name": "xticks"}, "mark": {"type": "tick", "orient": "vertical", "thickness": 1, "color": "#000000"}, "encoding": {"size": {"field": "k", "type": "ordinal", "scale": {"domain": ["M", "m"], "range": [4, 2.5]}, "legend": null}}},
                        {"data": {"name": "yticks"}, "transform": [{"filter": "datum.p === 'E'"}], "mark": {"type": "tick", "orient": "horizontal", "thickness": 1, "color": "#000000"}, "encoding": {"size": {"field": "k", "type": "ordinal", "scale": {"domain": ["M", "m"], "range": [4, 2.5]}, "legend": null}}},
                        {"data": {"name": "xlabels"}, "mark": {"type": "text", "fontSize": 10, "dy": 8, "color": "#111111"}, "encoding": {"text": {"field": "t"}}},
                        {"data": {"name": "ylabels"}, "transform": [{"filter": "datum.p === 'E'"}], "mark": {"type": "text", "fontSize": 10, "dx": -3, "align": "right", "color": "#111111"}, "encoding": {"text": {"field": "t"}}},
                        {"data": {"name": "paths"}, "transform": [{"filter": "datum.p === 'E'"}], "mark": {"type": "line", "strokeWidth": 4.5, "strokeJoin": "round"}, "encoding": {"detail": {"field": "s", "type": "nominal"}, "order": {"field": "o", "type": "quantitative"}, "color": {"field": "c", "type": "nominal", "scale": {"domain": ["red", "yellow", "cyan", "blue"], "range": ["#ff0000", "#ffff00", "#00ffff", "#0000ff"]}, "legend": null}}},
                        {"data": {"name": "dots"}, "transform": [{"filter": "datum.p === 'E'"}], "mark": {"type": "point", "filled": true, "size": 16, "fill": "#00ffff", "stroke": "#1e90ff", "strokeWidth": 1, "opacity": 1}}
                      ]
                    },
                    {"data": {"values": [{}]}, "mark": {"type": "point", "opacity": 0, "size": 1}, "encoding": {"x": {"datum": 3, "type": "quantitative", "axis": {"orient": "bottom", "title": null, "domainColor": "#ebebeb"}}, "y": {"datum": 3, "type": "quantitative", "axis": {"orient": "right", "title": null, "domainColor": "#ebebeb"}}}}
                  ]
                },
                {
                  "width": 612, "height": 187,
                  "resolve": {"axis": {"x": "independent", "y": "independent"}},
                  "layer": [
                    {
                      "encoding": {
                        "x": {"field": "x", "type": "quantitative", "scale": {"domain": [-7.321, 13.355], "nice": false, "zero": false}, "axis": {"orient": "top", "title": null}},
                        "y": {"field": "y", "type": "quantitative", "scale": {"domain": [-5.899, 11.528], "nice": false, "zero": false}, "axis": {"orient": "left", "title": null}}
                      },
                      "layer": [
                        {"data": {"name": "grid"}, "transform": [{"filter": "datum.p === 'F'"}], "mark": {"type": "rule", "color": "#a0a0a0", "strokeWidth": 1.2}, "encoding": {"x2": {"field": "x2"}, "y2": {"field": "y2"}}},
                        {"data": {"name": "axes"}, "transform": [{"filter": "datum.p === 'F'"}], "mark": {"type": "rule", "color": "#000000", "strokeWidth": 1}, "encoding": {"x2": {"field": "x2"}, "y2": {"field": "y2"}}},
                        {"data": {"name": "xticks"}, "mark": {"type": "tick", "orient": "vertical", "thickness": 1, "color": "#000000"}, "encoding": {"size": {"field": "k", "type": "ordinal", "scale": {"domain": ["M", "m"], "range": [4, 2.5]}, "legend": null}}},
                        {"data": {"name": "yticks"}, "transform": [{"filter": "datum.p === 'F'"}], "mark": {"type": "tick", "orient": "horizontal", "thickness": 1, "color": "#000000"}, "encoding": {"size": {"field": "k", "type": "ordinal", "scale": {"domain": ["M", "m"], "range": [4, 2.5]}, "legend": null}}},
                        {"data": {"name": "xlabels"}, "mark": {"type": "text", "fontSize": 10, "dy": 8, "color": "#111111"}, "encoding": {"text": {"field": "t"}}},
                        {"data": {"name": "ylabels"}, "transform": [{"filter": "datum.p === 'F'"}], "mark": {"type": "text", "fontSize": 10, "dx": -3, "align": "right", "color": "#111111"}, "encoding": {"text": {"field": "t"}}},
                        {"data": {"name": "paths"}, "transform": [{"filter": "datum.p === 'F'"}], "mark": {"type": "line", "strokeWidth": 4.5, "strokeJoin": "round"}, "encoding": {"detail": {"field": "s", "type": "nominal"}, "order": {"field": "o", "type": "quantitative"}, "color": {"field": "c", "type": "nominal", "scale": {"domain": ["red", "yellow", "cyan", "blue"], "range": ["#ff0000", "#ffff00", "#00ffff", "#0000ff"]}, "legend": null}}},
                        {"data": {"name": "dots"}, "transform": [{"filter": "datum.p === 'F'"}], "mark": {"type": "point", "filled": true, "size": 16, "fill": "#00ffff", "stroke": "#1e90ff", "strokeWidth": 1, "opacity": 1}}
                      ]
                    },
                    {"data": {"values": [{}]}, "mark": {"type": "point", "opacity": 0, "size": 1}, "encoding": {"x": {"datum": 3, "type": "quantitative", "axis": {"orient": "bottom", "title": null, "domainColor": "#ebebeb"}}, "y": {"datum": 3, "type": "quantitative", "axis": {"orient": "right", "title": null, "domainColor": "#ebebeb"}}}}
                  ]
                }
              ]
            },
            {
              "width": 1230, "height": 40,
              "resolve": {"axis": {"x": "independent", "y": "independent"}},
              "layer": [
                {
                  "encoding": {
                    "y": {"datum": 0.5, "type": "quantitative", "scale": {"domain": [0, 1], "nice": false}, "axis": {"orient": "left", "title": null}}
                  },
                  "layer": [
                    {"data": {"values": [{"t": "Fig. 6 Smarandache flat functions with n."}]}, "mark": {"type": "text", "fontSize": 32, "fontWeight": "bold", "align": "right", "baseline": "alphabetic", "dy": 8, "color": "#000000"}, "encoding": {"text": {"field": "t"}, "x": {"datum": 0.5396, "type": "quantitative", "scale": {"domain": [0, 1], "nice": false}, "axis": {"orient": "top", "title": null}}}},
                    {"data": {"values": [{"t": "bexθ"}]}, "mark": {"type": "text", "fontSize": 32, "fontWeight": "bold", "align": "left", "baseline": "alphabetic", "dy": 8, "color": "#ff0000"}, "encoding": {"text": {"field": "t"}, "x": {"datum": 0.5396, "type": "quantitative"}}},
                    {"data": {"values": [{"t": "◀"}]}, "mark": {"type": "text", "fontSize": 32, "fontWeight": "bold", "align": "center", "baseline": "alphabetic", "dy": 8, "color": "#000000"}, "encoding": {"text": {"field": "t"}, "x": {"datum": 0.6106, "type": "quantitative"}}},
                    {"data": {"values": [{"t": "and n."}]}, "mark": {"type": "text", "fontSize": 32, "fontWeight": "bold", "align": "right", "baseline": "alphabetic", "dy": 8, "color": "#000000"}, "encoding": {"text": {"field": "t"}, "x": {"datum": 0.6963, "type": "quantitative"}}},
                    {"data": {"values": [{"t": "Bexα"}]}, "mark": {"type": "text", "fontSize": 32, "fontWeight": "bold", "align": "left", "baseline": "alphabetic", "dy": 8, "color": "#0000ff"}, "encoding": {"text": {"field": "t"}, "x": {"datum": 0.6963, "type": "quantitative"}}},
                    {"data": {"values": [{"t": "▶"}]}, "mark": {"type": "text", "fontSize": 32, "fontWeight": "bold", "align": "center", "baseline": "alphabetic", "dy": 8, "color": "#0000ff"}, "encoding": {"text": {"field": "t"}, "x": {"datum": 0.7785, "type": "quantitative"}}},
                    {"data": {"values": [{"t": ", n = 1, 2, 3"}]}, "mark": {"type": "text", "fontSize": 32, "fontWeight": "bold", "align": "left", "baseline": "alphabetic", "dy": 8, "color": "#000000"}, "encoding": {"text": {"field": "t"}, "x": {"datum": 0.7943, "type": "quantitative"}}}
                  ]
                },
                {"data": {"values": [{}]}, "mark": {"type": "point", "opacity": 0, "size": 1}, "encoding": {"x": {"datum": 0.5, "type": "quantitative", "axis": {"orient": "bottom", "title": null, "domainColor": "#ebebeb"}}, "y": {"datum": 0.5, "type": "quantitative", "axis": {"orient": "right", "title": null, "domainColor": "#ebebeb"}}}}
              ]
            }
          ]
        },
        {"width": 6, "height": 772, "view": {"fill": "#a0a0a0", "stroke": null}, "data": {"values": [{}]}, "mark": {"type": "point", "opacity": 0, "size": 1}}
      ]
    },
    {
      "spacing": 0,
      "hconcat": [
        {"width": 8, "height": 5, "view": {"fill": "#efefef", "stroke": null}, "data": {"values": [{}]}, "mark": {"type": "point", "opacity": 0, "size": 1}},
        {"width": 1252, "height": 5, "view": {"fill": "#a0a0a0", "stroke": null}, "data": {"values": [{}]}, "mark": {"type": "point", "opacity": 0, "size": 1}}
      ]
    }
  ]
}
